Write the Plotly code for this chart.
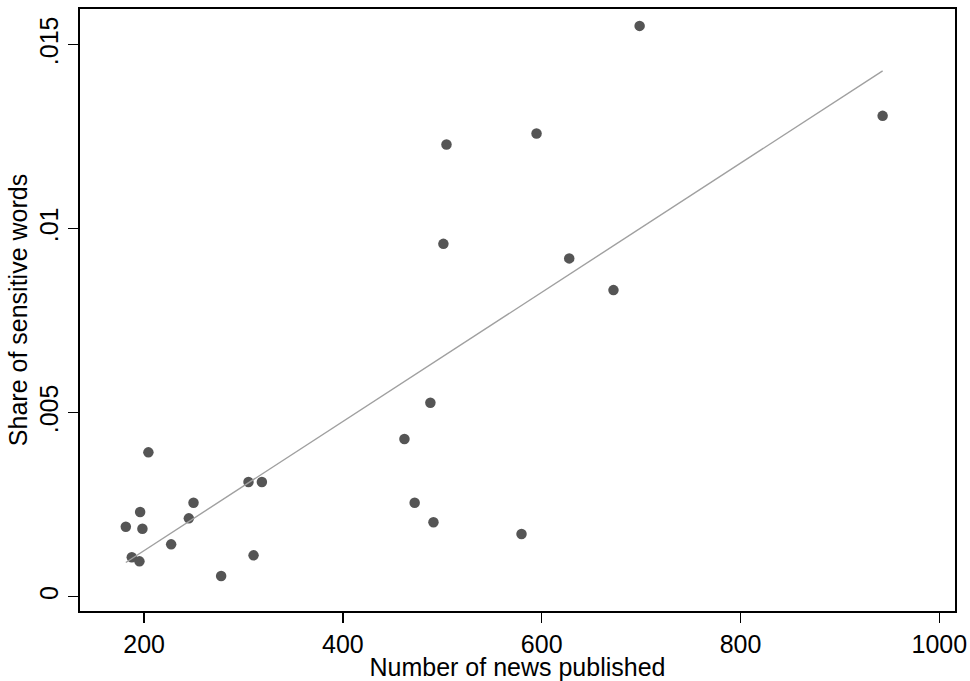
import plotly.graph_objects as go

# Data
news_published = [204.3, 305.0, 318.5, 249.7, 196.0, 245.0, 181.6, 198.3, 227.2,
                  187.6, 195.3, 310.1, 277.5, 488.0, 461.9, 472.2, 491.1, 579.7,
                  698.5, 594.8, 504.2, 501.1, 627.7, 672.2, 943.0]
sensitive_share = [0.003922, 0.003115, 0.003115, 0.002553, 0.002300, 0.002129,
                   0.001901, 0.001847, 0.001423, 0.001070, 0.000961, 0.001124,
                   0.000562, 0.005269, 0.004283, 0.002553, 0.002021, 0.001703,
                   0.015508, 0.012586, 0.012287, 0.009587, 0.009191, 0.008330,
                   0.013064]

# Linear fit line endpoints
fit_x = [181.6, 943.0]
fit_y = [0.00093, 0.014286]

x_ticks = [200, 400, 600, 800, 1000]
x_tick_labels = ["200", "400", "600", "800", "1000"]
y_ticks = [0, 0.005, 0.01, 0.015]
y_tick_labels = ["0", ".005", ".01", ".015"]

FONT = "Liberation Sans, Arial, sans-serif"
FS = 25

fig = go.Figure()
fig.add_trace(go.Scatter(
    x=news_published, y=sensitive_share, mode="markers",
    marker=dict(color="rgb(85,85,85)", size=10.5, line=dict(width=0)),
    showlegend=False, hoverinfo="skip"))
fig.add_trace(go.Scatter(
    x=fit_x, y=fit_y, mode="lines",
    line=dict(color="rgb(160,160,160)", width=1.4),
    showlegend=False, hoverinfo="skip"))

fig.update_layout(
    width=970, height=681,
    margin=dict(l=80, r=15, t=9, b=70, autoexpand=False),
    paper_bgcolor="white", plot_bgcolor="white",
    font=dict(family=FONT, size=FS, color="black"),
)
fig.update_xaxes(
    range=[135.5, 1015.8], tickmode="array", tickvals=x_ticks, ticktext=x_tick_labels,
    showgrid=False, zeroline=False, showline=True, linecolor="black", linewidth=2,
    mirror=True, ticks="outside", ticklen=10, tickwidth=1.5, tickcolor="black",
    tickfont=dict(size=FS),
    title=dict(text="Number of news published", font=dict(size=FS), standoff=0),
    automargin=False,
)
fig.update_yaxes(
    range=[-0.000388, 0.015967], tickmode="array", tickvals=y_ticks, ticktext=y_tick_labels,
    showgrid=False, zeroline=False, showline=True, linecolor="black", linewidth=2,
    mirror=True, ticks="outside", ticklen=10, tickwidth=1.5, tickcolor="black",
    tickangle=-90, tickfont=dict(size=FS),
    title=dict(text="Share of sensitive words", font=dict(size=FS), standoff=0),
    automargin=False,
)

fig.write_html(
    "out.html",
    config={"displayModeBar": False, "staticPlot": True},
    post_script="document.body.style.margin='0';document.body.style.overflow='hidden';",
)
